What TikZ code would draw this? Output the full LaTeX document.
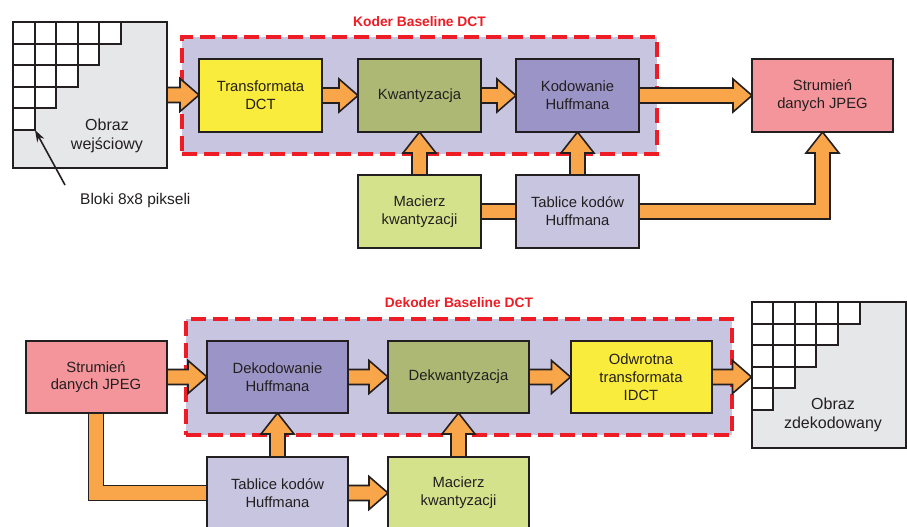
\documentclass[tikz,border=0pt]{standalone}
\usepackage{fontspec}
\setmainfont{Liberation Sans}
\usetikzlibrary{calc,arrows.meta}
\definecolor{dk}{HTML}{231F20}
\definecolor{imggray}{HTML}{E6E7E8}
\definecolor{yel}{HTML}{FAEC3C}
\definecolor{oli}{HTML}{ACB874}
\definecolor{pur}{HTML}{9B95C7}
\definecolor{lav}{HTML}{C8C5E1}
\definecolor{lgr}{HTML}{D4E28B}
\definecolor{pnk}{HTML}{F4959B}
\definecolor{org}{HTML}{F9A64A}
\definecolor{rd}{HTML}{EE1C25}
\pgfdeclarelayer{bg}
\pgfdeclarelayer{arr}
\pgfsetlayers{bg,arr,main}
\tikzset{
  box/.style={draw=dk, line width=2pt, minimum width=123pt, minimum height=73pt,
    inner sep=0pt, outer sep=0pt, align=center, text=dk,
    font=\fontsize{14.8}{17.8}\selectfont},
  wide/.style={minimum width=141pt, minimum height=72pt},
  imgbox/.style={draw=dk, line width=2pt, fill=imggray, minimum width=154pt,
    minimum height=146pt, inner sep=0pt, outer sep=0pt},
  cell/.style={draw=dk, fill=white, line width=2pt},
  lbl/.style={align=center, text=dk, font=\fontsize{16}{18.5}\selectfont, inner sep=0pt},
  note/.style={text=dk, font=\fontsize{15.5}{18}\selectfont, inner sep=0pt},
  region/.style={fill=lav, draw=rd, line width=3.3pt, dash pattern=on 15pt off 7pt,
    inner sep=0pt, outer sep=0pt},
  ttl/.style={text=rd, font=\bfseries\fontsize{13.8}{16}\selectfont, inner sep=0pt},
  conn/.style={fill=org, draw=dk, line width=1.6pt, line join=miter},
  ptr/.style={draw=dk, line width=1.6pt, -{Stealth[length=12pt,width=8pt]}}
}
\newcommand\hbarrow[2]{\path[conn] let \p1=(#1), \p2=(#2) in
  (\x1,\y1+7.5pt) -- (\x2-19pt,\y1+7.5pt) -- (\x2-19pt,\y1+16.5pt) -- (\x2,\y1)
  -- (\x2-19pt,\y1-16.5pt) -- (\x2-19pt,\y1-7.5pt) -- (\x1,\y1-7.5pt) -- cycle;}
\newcommand\vbarrow[2]{\path[conn] let \p1=(#1), \p2=(#2) in
  (\x1-7.5pt,\y1) -- (\x1-7.5pt,\y2-21pt) -- (\x1-16.5pt,\y2-21pt) -- (\x1,\y2)
  -- (\x1+16.5pt,\y2-21pt) -- (\x1+7.5pt,\y2-21pt) -- (\x1+7.5pt,\y1) -- cycle;}
\newcommand\hbandlink[2]{\path[conn] let \p1=(#1), \p2=(#2) in
  (\x1,\y1+7.5pt) -- (\x2,\y1+7.5pt) -- (\x2,\y1-7.5pt) -- (\x1,\y1-7.5pt) -- cycle;}
\newcommand\elbowU[2]{\path[conn] let \p1=(#1), \p2=(#2) in
  (\x1,\y1+7.5pt) -- (\x2-7.5pt,\y1+7.5pt) -- (\x2-7.5pt,\y2-21pt) -- (\x2-16.5pt,\y2-21pt)
  -- (\x2,\y2) -- (\x2+16.5pt,\y2-21pt) -- (\x2+7.5pt,\y2-21pt) -- (\x2+7.5pt,\y1-7.5pt)
  -- (\x1,\y1-7.5pt) -- cycle;}
\newcommand\elbowD[2]{\path[conn] let \p1=(#1), \p2=(#2) in
  (\x1-7.5pt,\y1) -- (\x1-7.5pt,\y2-7.5pt) -- (\x2,\y2-7.5pt) -- (\x2,\y2+7.5pt)
  -- (\x1+7.5pt,\y2+7.5pt) -- (\x1+7.5pt,\y1) -- cycle;}
\begin{document}
\begin{tikzpicture}[x=1pt,y=1pt]
\useasboundingbox (0,0) rectangle (907,527);
\clip (0,0) rectangle (907,527);

\begin{pgfonlayer}{bg}
\fill[white] (0,0) rectangle (907,527);
\node[region, minimum width=475pt, minimum height=117pt] (enc) at (419.5,431.5) {};
\node[region, minimum width=546pt, minimum height=116pt] (dec) at (459,150) {};
\end{pgfonlayer}

\node[ttl] (enct) at (419.5,505) {Koder Baseline DCT};
\node[ttl] (dect) at (459,224) {Dekoder Baseline DCT};

% encoder
\node[imgbox] (in) at (90,432) {};
\foreach \r in {0,...,4}{
  \pgfmathtruncatemacro{\nn}{4-\r}
  \foreach \c in {0,...,\nn}{
    \draw[cell] ($(in.north west)+(21.6*\c,-21.6*\r)$) rectangle +(21.6,-21.6);
  }
}
\node[lbl] (inl) at (107,391) {Obraz\\wejściowy};
\node[box, fill=yel] (T) at (260.5,431.5) {Transformata\\DCT};
\node[box, fill=oli] (K) at (419.5,431.5) {Kwantyzacja};
\node[box, fill=pur] (H) at (577.5,431.5) {Kodowanie\\Huffmana};
\node[box, fill=pnk, minimum width=141pt] (S) at (822.5,431.5) {Strumień\\danych JPEG};
\node[box, fill=lgr] (M) at (419.5,315.5) {Macierz\\kwantyzacji};
\node[box, fill=lav] (Tb) at (577.5,315.5) {Tablice kodów\\Huffmana};
\node[note, anchor=west] (bl) at (80,327) {Bloki 8x8 pikseli};
\coordinate (gc) at ($(in.north west)+(22,-108)$);
\coordinate (ps) at (65,342);
\draw[ptr] (ps) -- (gc);

% decoder
\node[box, wide, fill=pnk] (S2) at (96,150) {Strumień\\danych JPEG};
\node[box, wide, fill=pur] (D) at (277.5,150) {Dekodowanie\\Huffmana};
\node[box, wide, fill=oli] (DQ) at (458.5,150) {Dekwantyzacja};
\node[box, wide, fill=yel] (I) at (641,150) {Odwrotna\\transformata\\IDCT};
\node[imgbox] (out) at (828.5,152) {};
\foreach \r in {0,...,4}{
  \pgfmathtruncatemacro{\nn}{4-\r}
  \foreach \c in {0,...,\nn}{
    \draw[cell] ($(out.north west)+(21.6*\c,-21.6*\r)$) rectangle +(21.6,-21.6);
  }
}
\node[lbl] (outl) at (833,112) {Obraz\\zdekodowany};
\node[box, wide, fill=lav] (Tb2) at (277.5,34) {Tablice kodów\\Huffmana};
\node[box, wide, fill=lgr] (M2) at (458.5,34) {Macierz\\kwantyzacji};

\begin{pgfonlayer}{arr}
\hbarrow{in.east}{T.west}
\hbarrow{T.east}{K.west}
\hbarrow{K.east}{H.west}
\hbarrow{H.east}{S.west}
\vbarrow{M.north}{K.south}
\vbarrow{Tb.north}{H.south}
\hbandlink{M.east}{Tb.west}
\elbowU{Tb.east}{S.south}
\hbarrow{S2.east}{D.west}
\hbarrow{D.east}{DQ.west}
\hbarrow{DQ.east}{I.west}
\hbarrow{I.east}{out.west}
\vbarrow{Tb2.north}{D.south}
\vbarrow{M2.north}{DQ.south}
\hbarrow{Tb2.east}{M2.west}
\elbowD{S2.south}{Tb2.west}
\end{pgfonlayer}
\end{tikzpicture}
\end{document}
